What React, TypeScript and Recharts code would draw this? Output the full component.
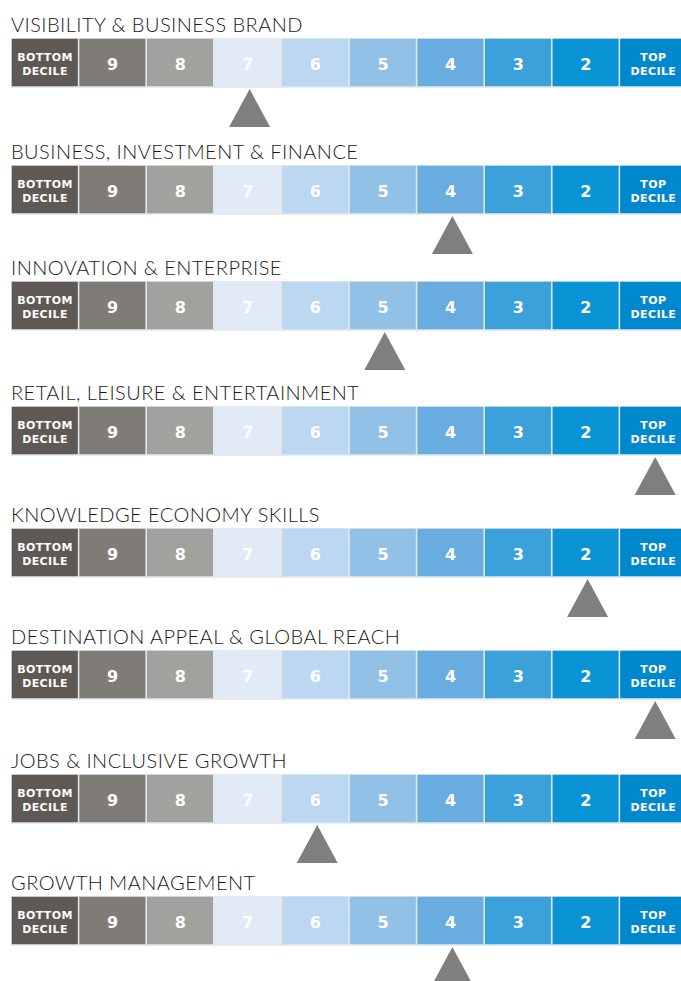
import React from 'react';
import { ComposedChart, Bar, Cell, XAxis, YAxis, Scatter, LabelList } from 'recharts';

// decile scale, left (worst) to right (best)
const DECILES = ['BOTTOM DECILE', '9', '8', '7', '6', '5', '4', '3', '2', 'TOP DECILE'];
const DECILE_COLORS = [
  '#5e5955', '#7f7b77', '#a3a19e', '#e0ebf7', '#bcd7f0',
  '#92c1e7', '#69ade0', '#3aa1db', '#0a93d5', '#0088cf'
];

const THEMES = [
  'VISIBILITY & BUSINESS BRAND',
  'BUSINESS, INVESTMENT & FINANCE',
  'INNOVATION & ENTERPRISE',
  'RETAIL, LEISURE & ENTERTAINMENT',
  'KNOWLEDGE ECONOMY SKILLS',
  'DESTINATION APPEAL & GLOBAL REACH',
  'JOBS & INCLUSIVE GROWTH',
  'GROWTH MANAGEMENT'
];

// decile where the marker sits for each theme
const MARKERS = ['7', '4', '5', 'TOP DECILE', '2', 'TOP DECILE', '6', '4'];

// layout
const ROW_TOPS = [38, 165, 281, 406, 528, 650, 774, 896];
const STRIP_H = 49;
const CHART_H = 92;
const CHART_W = 676;
const Y_MIN = 1 - CHART_H / STRIP_H;

const renderCellLabel = (props: any) => {
  const { x, y, width, height, value } = props;
  const cx = Number(x) + Number(width) / 2;
  const cy = Number(y) + Number(height) / 2;
  const parts = String(value).split(' ');
  if (parts.length === 1) {
    return (
      <text x={cx} y={cy + 7} textAnchor="middle" fill="#fff" fontSize={16}
        fontWeight="bold" fontFamily="DejaVu Sans">{value}</text>
    );
  }
  return (
    <text textAnchor="middle" fill="#fff" fontSize={11} fontWeight="bold"
      fontFamily="DejaVu Sans" letterSpacing={0.4}>
      <tspan x={cx} y={cy - 2}>{parts[0]}</tspan>
      <tspan x={cx} y={cy + 12}>{parts[1]}</tspan>
    </text>
  );
};

const Triangle = (props: any) => {
  const { cx, cy, payload } = props;
  if (payload == null || payload.mark == null || cx == null || cy == null) return <g />;
  const x = cx + 2;
  const top = cy + 2;
  const base = cy + 40;
  return <path d={`M${x},${top}L${x + 20.5},${base}L${x - 20.5},${base}Z`} fill="#7f7f7f" />;
};

const ThemeRow = ({ title, marker, top }: { title: string; marker: string; top: number }) => {
  const data = DECILES.map((label) => ({
    label,
    v: 1,
    mark: label === marker ? 0 : null
  }));

  return (
    <>
      <div style={{
        position: 'absolute', left: 11, top: top - 25, whiteSpace: 'nowrap',
        fontFamily: 'Lato', fontWeight: 300, fontSize: 20, lineHeight: '22px',
        color: '#1a1718', letterSpacing: 0.45
      }}>
        {title}
      </div>
      <div style={{ position: 'absolute', left: 11, top }}>
        <ComposedChart width={CHART_W} height={CHART_H} data={data}
          margin={{ top: 0, right: 0, bottom: 0, left: 0 }} barCategoryGap={0} barGap={0}>
          <XAxis dataKey="label" type="category" hide />
          <YAxis type="number" domain={[Y_MIN, 1]} hide allowDataOverflow />
          <Bar dataKey="v" isAnimationActive={false} stroke="#e4e7ea" strokeWidth={1.5}>
            {data.map((d, i) => (
              <Cell key={d.label} fill={DECILE_COLORS[i]} />
            ))}
            <LabelList dataKey="label" content={renderCellLabel} />
          </Bar>
          <Scatter dataKey="mark" isAnimationActive={false} shape={<Triangle />} />
        </ComposedChart>
      </div>
    </>
  );
}

export default function App() {
  return (
    <div style={{
      position: 'absolute', left: 0, top: 0, width: 681, height: 981,
      overflow: 'hidden', background: '#fff'
    }}>
      {THEMES.map((t, i) => (
        <ThemeRow key={t} title={t} marker={MARKERS[i]} top={ROW_TOPS[i]} />
      ))}
    </div>
  );
}
